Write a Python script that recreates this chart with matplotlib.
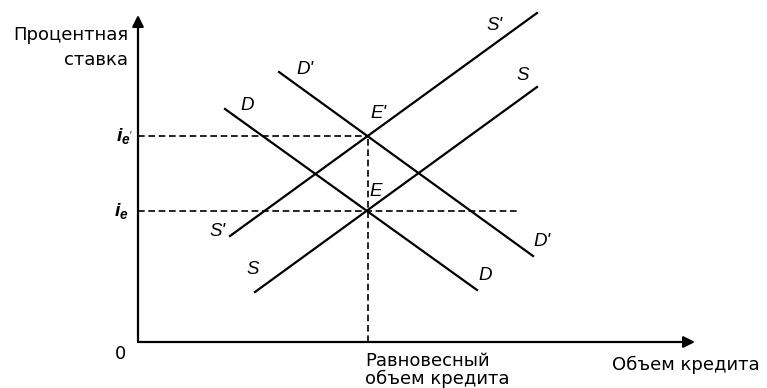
import matplotlib
matplotlib.use("Agg")
import matplotlib.pyplot as plt

plt.rcParams['font.family'] = ['DejaVu Sans']
plt.rcParams['mathtext.fontset'] = 'custom'
plt.rcParams['mathtext.it'] = 'Liberation Sans:italic:bold'
plt.rcParams['mathtext.rm'] = 'Liberation Sans'

# curve endpoints (quantity, rate), origin at the axes corner
s_q = [117, 399]
s_r = [50, 255]
s2_q = [92, 399]
s2_r = [106, 329]
d_q = [87, 339]
d_r = [233, 52]
d2_q = [141, 395]
d2_r = [270, 86]

eq_q = 230          # equilibrium loan volume
ie = 131            # i_e
ie2 = 206           # i_e'
ie_line_end = 380   # right end of the i_e dashed line
y_top = 327
x_end = 557

# curve labels: (text, q, r)
curve_labels = [
    ("S'", 357, 317), ("S", 385, 267),
    ("D'", 167, 272), ("D", 109, 236),
    ("E'", 240, 229), ("E", 238, 151),
    ("S'", 80, 111), ("S", 115, 73),
    ("D'", 404, 100), ("D", 347, 67),
]

fig = plt.figure(figsize=(7.67, 3.88), dpi=100)
ax = fig.add_axes([0, 0, 1, 1])
ax.set_xlim(-138, 629)
ax.set_ylim(-46, 342)
ax.axis('off')

lw = 1.6
ax.plot(s_q, s_r, color='black', lw=lw)
ax.plot(s2_q, s2_r, color='black', lw=lw)
ax.plot(d_q, d_r, color='black', lw=lw)
ax.plot(d2_q, d2_r, color='black', lw=lw)

# dashed guides
dash = (0, (4, 2.2))
ax.plot([0, ie_line_end], [ie, ie], color='black', lw=1.2, linestyle=dash)
ax.plot([0, eq_q], [ie2, ie2], color='black', lw=1.2, linestyle=dash)
ax.plot([eq_q, eq_q], [0, ie2], color='black', lw=1.2, linestyle=dash)

# axes with arrows
ax.annotate('', xy=(0, y_top), xytext=(0, 0),
            arrowprops=dict(arrowstyle='-|>', color='black', lw=1.6,
                            mutation_scale=17, shrinkA=0, shrinkB=0))
ax.annotate('', xy=(x_end, 0), xytext=(0, 0),
            arrowprops=dict(arrowstyle='-|>', color='black', lw=1.6,
                            mutation_scale=17, shrinkA=0, shrinkB=0))

for txt, q, r in curve_labels:
    ax.text(q, r, txt, ha='center', va='center', fontsize=13.5,
            family='Liberation Sans', style='italic', color='black')

ax.text(-5, ie2, r"$i_{e'}$", ha='right', va='center', fontsize=14)
ax.text(-9, ie, r"$i_{e}$", ha='right', va='center', fontsize=14)

fs = 13
ax.text(-12, -12, "0", ha='right', va='center', fontsize=fs)
ax.text(-10, 307, "Процентная", ha='right', va='center', fontsize=fs)
ax.text(-10, 282, "ставка", ha='right', va='center', fontsize=fs)
ax.text(eq_q - 3, -19, "Равновесный", ha='left', va='center', fontsize=fs)
ax.text(eq_q - 3, -37, "объем кредита", ha='left', va='center', fontsize=fs)
ax.text(474, -23, "Объем кредита", ha='left', va='center', fontsize=fs)

fig.savefig('out.png', dpi=100)
